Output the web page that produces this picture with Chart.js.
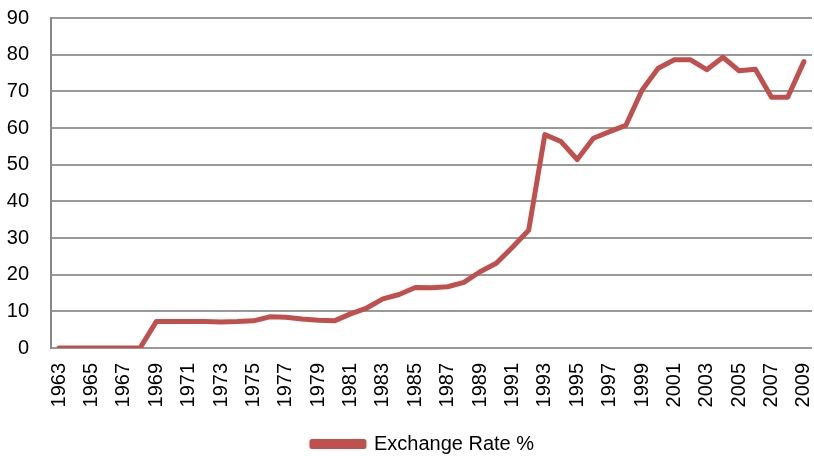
<!DOCTYPE html>
<html>
<head>
<meta charset="utf-8">
<script src="https://cdn.jsdelivr.net/npm/chart.js@4"></script>
<style>
html,body{margin:0;padding:0;background:#fff;}
#wrap{width:814px;height:456px;}
</style>
</head>
<body>
<div id="wrap"><canvas id="c" width="814" height="456"></canvas></div>
<script>
const years = ['1963','1964','1965','1966','1967','1968','1969','1970','1971','1972','1973','1974','1975','1976','1977','1978','1979','1980','1981','1982','1983','1984','1985','1986','1987','1988','1989','1990','1991','1992','1993','1994','1995','1996','1997','1998','1999','2000','2001','2002','2003','2004','2005','2006','2007','2008','2009'];
const exchangeRate = [0,0,0,0,0,0,7.2,7.2,7.2,7.2,7.1,7.2,7.4,8.5,8.4,7.9,7.6,7.4,9.3,10.9,13.4,14.6,16.5,16.4,16.7,17.9,20.8,23.1,27.5,32.1,58.2,56.3,51.4,57.2,59,60.7,70.3,76.3,78.6,78.6,75.9,79.3,75.6,76,68.4,68.4,78.1];
const yTicks = [0,10,20,30,40,50,60,70,80,90];
const seriesName = 'Exchange Rate %';

const FONT = '"Liberation Sans", Arial, sans-serif';

const legendShift = {
  id: 'legendShift',
  afterLayout(chart) {
    const lg = chart.legend;
    if (lg) { lg.left += 17; lg.right += 17; lg.top += 8; lg.bottom += 8; }
  }
};

new Chart(document.getElementById('c'), {
  type: 'line',
  data: {
    labels: years,
    datasets: [{
      label: seriesName,
      data: exchangeRate,
      borderColor: '#c0504d',
      backgroundColor: '#c0504d',
      borderWidth: 5,
      pointRadius: 0,
      tension: 0,
      borderJoinStyle: 'round',
      borderCapStyle: 'round'
    }]
  },
  plugins: [legendShift],
  options: {
    responsive: false,
    animation: false,
    layout: { padding: { top: 18, right: 2, left: 0, bottom: 0 } },
    plugins: {
      legend: {
        position: 'bottom',
        labels: {
          boxWidth: 52,
          boxHeight: 5,
          padding: 8,
          color: '#000',
          font: { family: FONT, size: 20 }
        }
      },
      tooltip: { enabled: false }
    },
    scales: {
      x: {
        type: 'category',
        offset: true,
        grid: { display: false, drawTicks: false },
        border: { display: false },
        ticks: {
          autoSkip: false,
          maxRotation: 90,
          minRotation: 90,
          padding: 15,
          color: '#000',
          font: { family: FONT, size: 20 },
          callback: function(v, i) { return i % 2 === 0 ? years[i] : ''; }
        },
        afterFit: function(s) { s.height = 70; s.paddingLeft = 0; s.paddingRight = 0; }
      },
      y: {
        min: 0,
        max: 90,
        afterBuildTicks: function(s) { s.ticks = yTicks.map(v => ({ value: v })); },
        grid: { color: '#999999', lineWidth: 2, drawTicks: false },
        border: { display: true, color: '#888888', width: 2 },
        ticks: {
          padding: 22,
          color: '#000',
          font: { family: FONT, size: 20 }
        },
        afterFit: function(s) { s.width = 51; s.paddingTop = 0; s.paddingBottom = 0; }
      }
    }
  }
});
</script>
</body>
</html>
